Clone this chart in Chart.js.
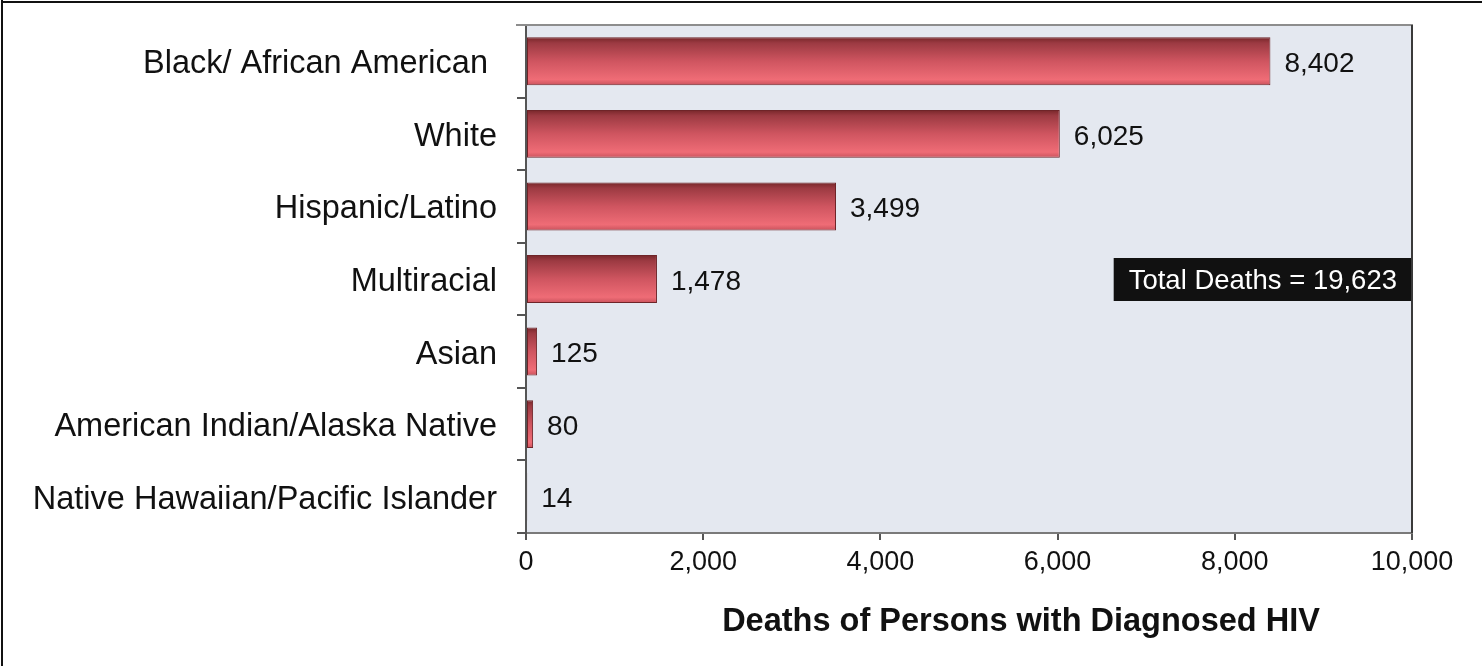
<!DOCTYPE html>
<html>
<head>
<meta charset="utf-8">
<script src="https://cdn.jsdelivr.net/npm/chart.js@4.4.0/dist/chart.umd.min.js"></script>
<style>
  html, body { margin: 0; padding: 0; background: #fff; }
  #wrap { width: 1482px; height: 666px; position: relative; }
</style>
</head>
<body>
<div id="wrap"><canvas id="deaths-chart"></canvas></div>
<script>
// Deaths of persons with diagnosed HIV, by race/ethnicity
const groups = [
  'Black/ African American ',
  'White',
  'Hispanic/Latino',
  'Multiracial',
  'Asian',
  'American Indian/Alaska Native',
  'Native Hawaiian/Pacific Islander'
];
const deaths = [8402, 6025, 3499, 1478, 125, 80, 14];
const xTicks = [0, 2000, 4000, 6000, 8000, 10000];
const axisTitle = 'Deaths of Persons with Diagnosed HIV';
const totalLabel = 'Total Deaths = ';

const FONT = "'Liberation Sans', Arial, Helvetica, sans-serif";
const BAR_PCT = 0.66;
const fmt = v => v.toLocaleString('en-US');

// vertical shading for each bar, darker on top
function barGradient(ctx) {
  const chart = ctx.chart;
  const y = chart.scales.y;
  if (!chart.chartArea || !y) return '#d95660';
  const band = (chart.chartArea.bottom - chart.chartArea.top) / groups.length;
  const half = band * BAR_PCT / 2;
  const cy = y.getPixelForValue(ctx.dataIndex);
  const g = chart.ctx.createLinearGradient(0, cy - half, 0, cy + half);
  g.addColorStop(0, '#762629');
  g.addColorStop(0.12, '#9c3a42');
  g.addColorStop(0.5, '#cf5560');
  g.addColorStop(0.88, '#ef6c76');
  g.addColorStop(1, '#c9525c');
  return g;
}

const framePlugin = {
  id: 'frame',
  beforeDraw(chart) {
    const { ctx, chartArea: a } = chart;
    ctx.save();
    ctx.fillStyle = '#e4e8f0';
    ctx.fillRect(a.left, a.top, a.right - a.left, a.bottom - a.top);
    ctx.restore();
  },
  afterDraw(chart) {
    const { ctx, chartArea: a } = chart;
    ctx.save();
    // plot box: grey top, dark right
    ctx.lineWidth = 2;
    ctx.strokeStyle = '#8d8d8d';
    ctx.beginPath();
    ctx.moveTo(a.left - 10, a.top);
    ctx.lineTo(a.right + 1, a.top);
    ctx.stroke();
    ctx.strokeStyle = '#3a3a3a';
    ctx.beginPath();
    ctx.moveTo(a.right, a.top);
    ctx.lineTo(a.right, a.bottom);
    ctx.stroke();
    // outer border (left and top)
    ctx.fillStyle = '#111';
    ctx.fillRect(1, 0, 2, chart.height);
    ctx.fillRect(1, 1, chart.width, 2);
    ctx.restore();
  }
};

const valueLabels = {
  id: 'valueLabels',
  afterDatasetsDraw(chart) {
    const { ctx } = chart;
    const meta = chart.getDatasetMeta(0);
    ctx.save();
    ctx.font = '28px ' + FONT;
    ctx.fillStyle = '#111';
    ctx.textBaseline = 'middle';
    ctx.textAlign = 'left';
    meta.data.forEach((bar, i) => {
      ctx.fillText(fmt(deaths[i]), bar.x + 14, bar.y + 3);
    });

    // total box, right-aligned to the plot, on the Multiracial row
    const a = chart.chartArea;
    const total = deaths.reduce((s, v) => s + v, 0);
    const text = totalLabel + fmt(total);
    ctx.font = '27.5px ' + FONT;
    const w = ctx.measureText(text).width + 30;
    const cy = chart.scales.y.getPixelForValue(3);
    ctx.fillStyle = '#111';
    ctx.fillRect(a.right - w, cy - 21, w, 43);
    ctx.fillStyle = '#fff';
    ctx.textAlign = 'center';
    ctx.fillText(text, a.right - w / 2, cy + 2);

    // axis title
    ctx.font = 'bold 32.5px ' + FONT;
    ctx.fillStyle = '#111';
    ctx.fillText(axisTitle, (a.left + a.right) / 2 + 52, 622);
    ctx.restore();
  }
};

new Chart(document.getElementById('deaths-chart'), {
  type: 'bar',
  data: {
    labels: groups,
    datasets: [{
      data: deaths,
      backgroundColor: barGradient,
      borderColor: '#6e2428',
      borderWidth: 1,
      borderSkipped: false,
      categoryPercentage: 1,
      barPercentage: BAR_PCT
    }]
  },
  options: {
    indexAxis: 'y',
    responsive: true,
    maintainAspectRatio: false,
    animation: false,
    layout: { padding: { top: 25, right: 70, left: 0, bottom: 0 } },
    plugins: { legend: { display: false }, tooltip: { enabled: false } },
    scales: {
      x: {
        min: 0,
        max: 10000,
        afterBuildTicks: s => { s.ticks = xTicks.map(v => ({ value: v })); },
        afterFit: s => { s.height = 133; },
        grid: { drawOnChartArea: false, tickLength: 7, color: '#555', lineWidth: 2 },
        border: { color: '#7a7a7a', width: 2 },
        ticks: {
          padding: 6,
          color: '#111',
          font: { family: FONT, size: 27 },
          maxRotation: 0,
          callback: v => fmt(v)
        }
      },
      y: {
        afterFit: s => { s.width = 526; s.paddingTop = 0; s.paddingBottom = 0; },
        grid: { offset: true, drawOnChartArea: false, tickLength: 9, color: '#555', lineWidth: 2 },
        border: { color: '#555', width: 2 },
        ticks: {
          padding: 20,
          labelOffset: 3,
          color: '#111',
          font: { family: FONT, size: 32.5 }
        }
      }
    }
  },
  plugins: [framePlugin, valueLabels]
});
</script>
</body>
</html>
